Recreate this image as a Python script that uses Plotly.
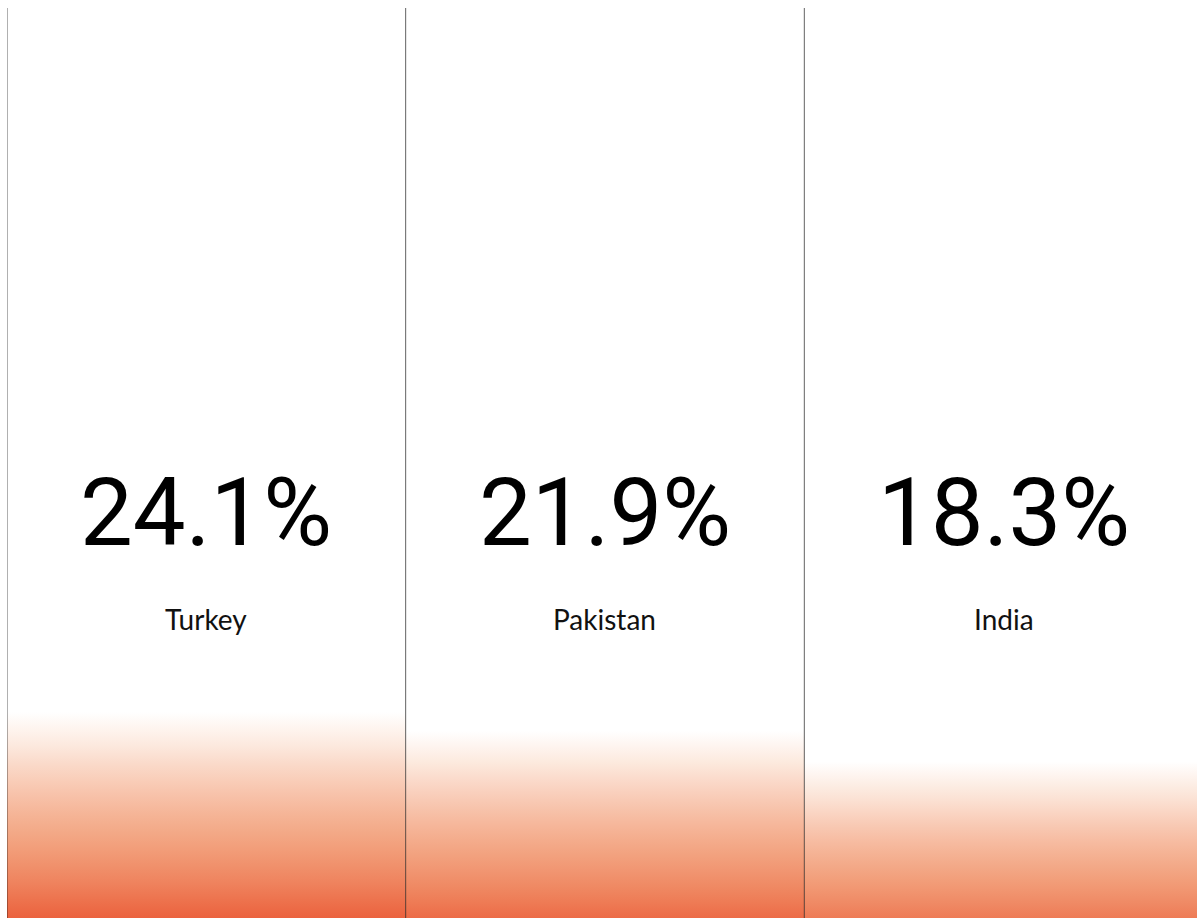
import plotly.graph_objects as go

# ---- data ----
countries = ["Turkey", "Pakistan", "India"]
shares = [24.1, 21.9, 18.3]
share_labels = ["24.1%", "21.9%", "18.3%"]

# ---- style ----
Y_MAX = 106.5
X_MAX = 2.985
NUM_FONT = "Roboto"
LABEL_FONT = "Lato"

# colour ramp: 0 = top of bar (white), 1 = full orange
RAMP = [
    (0.00, (255, 255, 255)),
    (0.17, (252, 232, 220)),
    (0.33, (249, 205, 185)),
    (0.50, (245, 180, 150)),
    (0.66, (242, 158, 122)),
    (0.82, (239, 133, 95)),
    (1.00, (235, 98, 62)),
]


def ramp_color(t):
    t = max(0.0, min(1.0, t))
    for (t0, c0), (t1, c1) in zip(RAMP[:-1], RAMP[1:]):
        if t0 <= t <= t1:
            f = 0 if t1 == t0 else (t - t0) / (t1 - t0)
            c = [round(a + (b - a) * f) for a, b in zip(c0, c1)]
            return "rgb({},{},{})".format(*c)
    return "rgb({},{},{})".format(*RAMP[-1][1])


vmax = max(shares)
fig = go.Figure()

for i, (name, v) in enumerate(zip(countries, shares)):
    k = (v / vmax) ** 0.5
    n = 12
    cs = []
    for j in range(n + 1):
        p = j / n  # 0 = bottom, 1 = top
        cs.append([p, ramp_color((1 - p) * k)])
    fig.add_trace(
        go.Scatter(
            x=[i, i + 1],
            y=[v, v],
            mode="lines",
            line=dict(width=0),
            fill="tozeroy",
            fillgradient=dict(type="vertical", colorscale=cs, start=0, stop=v),
            hoverinfo="skip",
            showlegend=False,
            name=name,
        )
    )

# column separators
for i in range(len(countries)):
    fig.add_shape(
        type="line",
        xref="x", yref="paper",
        x0=i, x1=i, y0=0, y1=1,
        line=dict(color="rgba(0,0,0,0.62)", width=1),
        layer="above",
    )

# text
for i, (name, lab) in enumerate(zip(countries, share_labels)):
    fig.add_annotation(
        x=i + 0.5, xref="x", y=0.445, yref="paper",
        text=lab, showarrow=False, xanchor="center", yanchor="middle",
        font=dict(family=NUM_FONT, size=94, color="#000000"),
    )
    fig.add_annotation(
        x=i + 0.5, xref="x", y=0.3286, yref="paper",
        text=name, showarrow=False, xanchor="center", yanchor="middle",
        font=dict(family=LABEL_FONT, size=28, color="#111111", weight=400),
    )

fig.update_layout(
    width=1197,
    height=918,
    margin=dict(l=7, r=0, t=8, b=0),
    paper_bgcolor="white",
    plot_bgcolor="white",
    xaxis=dict(range=[0, X_MAX], visible=False, fixedrange=True),
    yaxis=dict(range=[0, Y_MAX], visible=False, fixedrange=True),
    showlegend=False,
)

fig.write_html(
    "out.html",
    config={"displayModeBar": False},
    post_script="document.body.style.margin='0';document.body.style.overflow='hidden';",
)
